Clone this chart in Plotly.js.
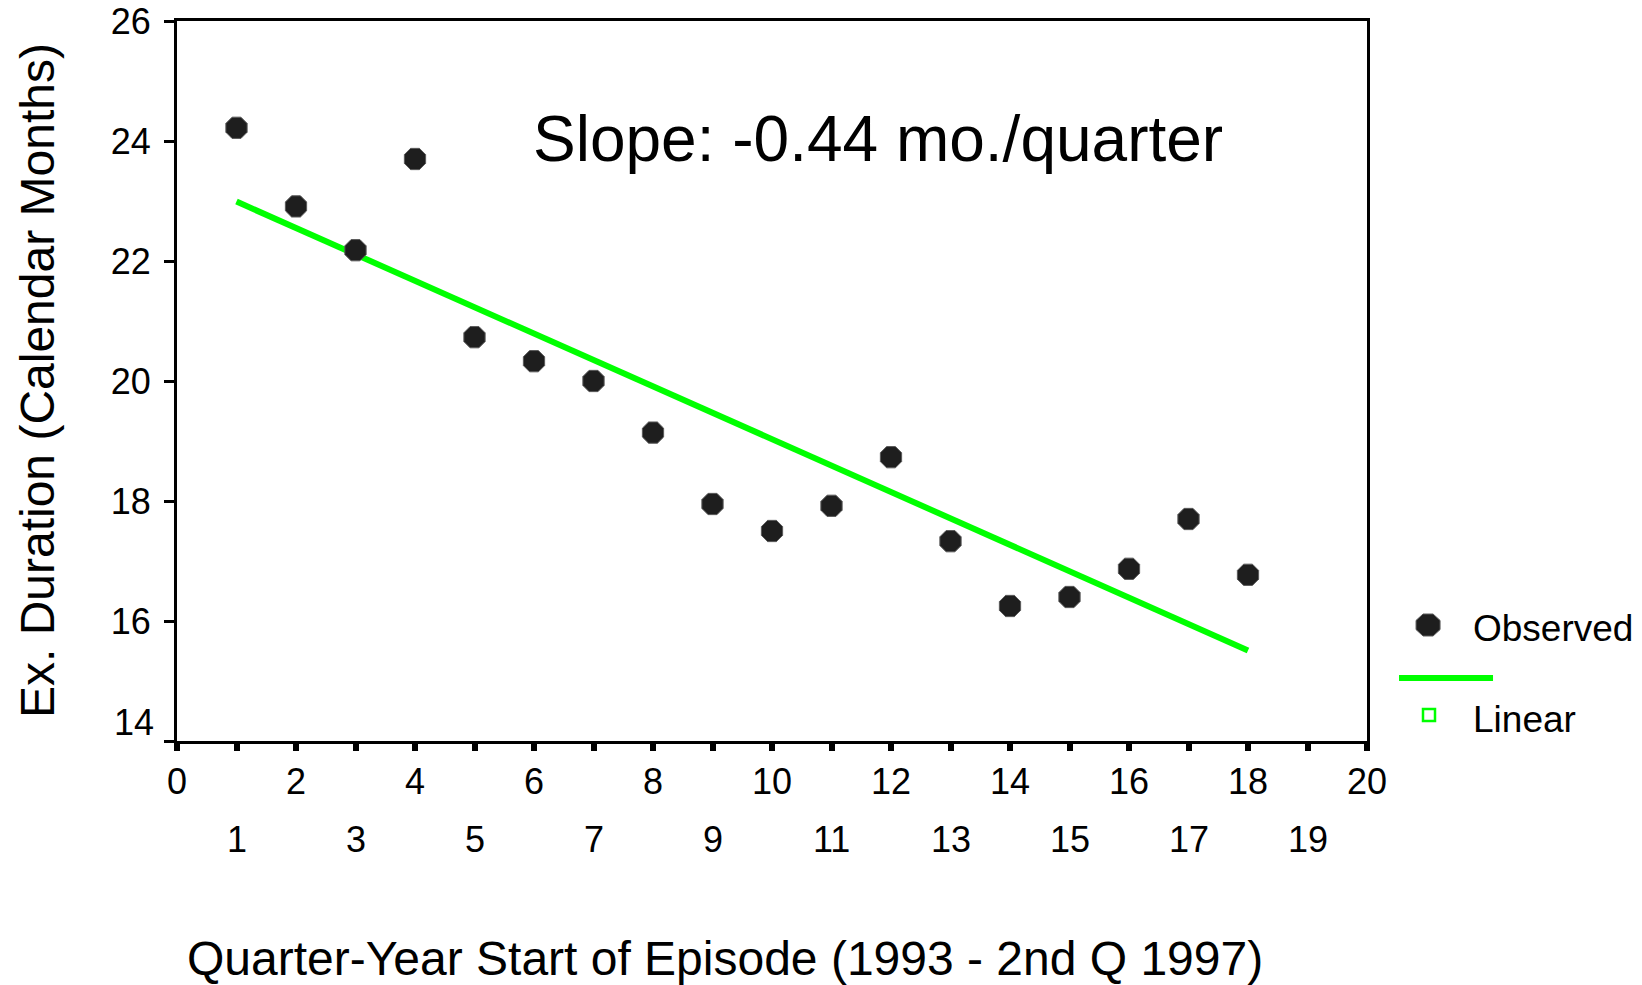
<!DOCTYPE html>
<html>
<head>
<meta charset="utf-8">
<script src="https://cdn.plot.ly/plotly-3.0.1.min.js"></script>
<style>
  html, body { margin: 0; padding: 0; background: #fff; }
  #chart { width: 1642px; height: 985px; }
</style>
</head>
<body>
<div id="chart"></div>
<script>
// Quarter index of episode start (1 = 1st quarter 1993)
const quarters = [1, 2, 3, 4, 5, 6, 7, 8, 9, 10, 11, 12, 13, 14, 15, 16, 17, 18];
// Observed expected duration, calendar months
const observed = [24.22, 22.91, 22.18, 23.70, 20.73, 20.33, 20.00, 19.14, 17.95,
                  17.50, 17.92, 18.73, 17.33, 16.25, 16.40, 16.87, 17.70, 16.77];
// Linear trend: slope per quarter and intercept
const fitSlope = -0.44;
const fitIntercept = 23.43;
const fitRange = [1, 18];

// Axis tick labels
const xEvenTicks = [0, 2, 4, 6, 8, 10, 12, 14, 16, 18, 20];
const xOddTicks = [1, 3, 5, 7, 9, 11, 13, 15, 17, 19];
const yTicks = [14, 16, 18, 20, 22, 24, 26];

const FONT = 'Arial, "Liberation Sans", sans-serif';
const TICK_SIZE = 36;

const fitY = fitRange.map(x => fitIntercept + fitSlope * x);

const allX = [];
for (let i = 0; i <= 20; i++) allX.push(i);
const xText = allX.map(v => xEvenTicks.includes(v) ? String(v) : '');

const traces = [
  {
    x: fitRange, y: fitY, type: 'scatter', mode: 'lines',
    line: { color: '#00ff00', width: 6 },
    hoverinfo: 'skip', showlegend: false
  },
  {
    x: quarters, y: observed, type: 'scatter', mode: 'markers',
    marker: { symbol: 'octagon', size: 23, color: '#1e1e1e', line: { color: '#5a5a5a', width: 1 } },
    showlegend: false
  }
];

const annotations = [];
// second row of x tick labels (odd quarters)
xOddTicks.forEach(v => annotations.push({
  x: v, xref: 'x', y: 0, yref: 'paper', yshift: -98,
  text: String(v), showarrow: false, xanchor: 'center', yanchor: 'middle',
  font: { family: FONT, size: TICK_SIZE, color: '#000' }
}));
// bottom y label sits above the x axis
annotations.push({
  x: 0, xref: 'paper', y: yTicks[0], yref: 'y', xshift: -21, yshift: 19,
  text: String(yTicks[0]), showarrow: false, xanchor: 'right', yanchor: 'middle',
  font: { family: FONT, size: TICK_SIZE, color: '#000' }
});
// axis titles
annotations.push({
  x: -0.1176, xref: 'paper', y: 0.5, yref: 'paper', textangle: -90,
  text: 'Ex. Duration (Calendar Months)', showarrow: false,
  xanchor: 'center', yanchor: 'middle',
  font: { family: FONT, size: 48, color: '#000' }
});
annotations.push({
  x: 0.4605, xref: 'paper', y: -0.3014, yref: 'paper',
  text: 'Quarter-Year Start of Episode (1993 - 2nd Q 1997)', showarrow: false,
  xanchor: 'center', yanchor: 'middle',
  font: { family: FONT, size: 48, color: '#000' }
});
// slope label
annotations.push({
  x: 11.78, xref: 'x', y: 24.03, yref: 'y',
  text: 'Slope: ' + fitSlope.toFixed(2) + ' mo./quarter', showarrow: false,
  xanchor: 'center', yanchor: 'middle',
  font: { family: FONT, size: 64, color: '#000' }
});
// legend labels
annotations.push({
  x: 1.0874, xref: 'paper', y: 0.1556, yref: 'paper',
  text: 'Observed', showarrow: false, xanchor: 'left', yanchor: 'middle',
  font: { family: FONT, size: 37, color: '#000' }
});
annotations.push({
  x: 1.0874, xref: 'paper', y: 0.0292, yref: 'paper',
  text: 'Linear', showarrow: false, xanchor: 'left', yanchor: 'middle',
  font: { family: FONT, size: 37, color: '#000' }
});

const shapes = [
  // legend marker for observed points
  {
    type: 'path', xref: 'paper', yref: 'paper',
    xsizemode: 'pixel', ysizemode: 'pixel', xanchor: 1.0513, yanchor: 0.1611,
    path: 'M -5,11 L 5,11 L 12,4.6 L 12,-4.6 L 5,-11 L -5,-11 L -12,-4.6 L -12,4.6 Z',
    fillcolor: '#1e1e1e', line: { color: '#5a5a5a', width: 1 }
  },
  // legend line for linear fit
  {
    type: 'line', xref: 'paper', yref: 'paper',
    x0: 1.0269, x1: 1.1059, y0: 0.0875, y1: 0.0875,
    line: { color: '#00ff00', width: 6 }
  },
  // small square under legend line
  {
    type: 'rect', xref: 'paper', yref: 'paper',
    xsizemode: 'pixel', ysizemode: 'pixel', xanchor: 1.0521, yanchor: 0.0361,
    x0: -6, x1: 6, y0: -6, y1: 6,
    fillcolor: 'rgba(0,0,0,0)', line: { color: '#00ff00', width: 2.5 }
  }
];

const layout = {
  width: 1642, height: 985,
  margin: { l: 177, r: 275, t: 21, b: 244 },
  paper_bgcolor: '#fff', plot_bgcolor: '#fff',
  showlegend: false,
  font: { family: FONT, color: '#000' },
  xaxis: {
    range: [0, 20], tickmode: 'array', tickvals: allX, ticktext: xText,
    showgrid: false, zeroline: false,
    showline: true, mirror: true, linecolor: '#000', linewidth: 3,
    ticks: 'outside', ticklen: 7, tickwidth: 6, tickcolor: '#000',
    ticklabelstandoff: 0,
    tickfont: { family: FONT, size: TICK_SIZE, color: '#000' }
  },
  yaxis: {
    range: [14, 26], tickmode: 'array', tickvals: yTicks,
    ticktext: yTicks.map((v, i) => i === 0 ? '' : String(v)),
    showgrid: false, zeroline: false,
    showline: true, mirror: true, linecolor: '#000', linewidth: 3,
    ticks: 'outside', ticklen: 10, tickwidth: 3, tickcolor: '#000',
    ticklabelstandoff: 6,
    tickfont: { family: FONT, size: TICK_SIZE, color: '#000' }
  },
  annotations: annotations,
  shapes: shapes
};

Plotly.newPlot('chart', traces, layout, { displayModeBar: false, staticPlot: true });
</script>
</body>
</html>
